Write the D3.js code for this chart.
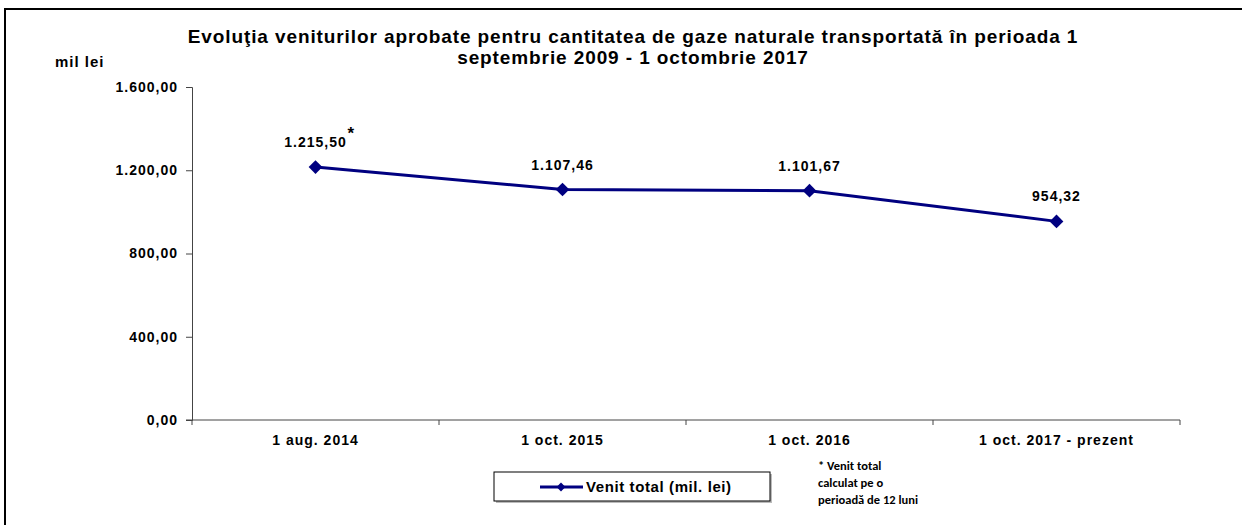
<!DOCTYPE html>
<html>
<head>
<meta charset="utf-8">
<script src="https://cdn.jsdelivr.net/npm/d3@7"></script>
<style>
body { margin: 0; background: #fff; }
text { font-family: Arial, "Liberation Sans", sans-serif; font-weight: bold; fill: #000; }
</style>
</head>
<body>
<svg width="1242" height="525"></svg>
<script>
const categories = ["1 aug. 2014", "1 oct. 2015", "1 oct. 2016", "1 oct. 2017 - prezent"];
const venit = [1215.50, 1107.46, 1101.67, 954.32];
const yTicks = [0, 400, 800, 1200, 1600];

const svg = d3.select("svg");
const fmt = v => d3.format(",.2f")(v).replace(/,/g, "#").replace(".", ",").replace(/#/g, ".");

// frame
svg.append("path").attr("d", "M5,525 V9 H1242").attr("fill", "none").attr("stroke", "#000").attr("stroke-width", 2);

const x = d3.scaleBand().domain(categories).range([192, 1180]);
const y = d3.scaleLinear().domain([0, 1600]).range([420, 87]);

// title
const title = svg.append("text").attr("text-anchor", "middle").attr("font-size", 19).attr("letter-spacing", 0.9);
title.append("tspan").attr("x", 633).attr("y", 43).text("Evoluţia veniturilor aprobate pentru cantitatea de gaze naturale transportată în perioada 1");
title.append("tspan").attr("x", 633).attr("y", 64).text("septembrie 2009 - 1 octombrie 2017");

svg.append("text").attr("x", 55).attr("y", 67).attr("font-size", 15).attr("letter-spacing", 1).text("mil lei");

// y axis
const ya = svg.append("g").attr("transform", "translate(192,0)")
    .call(d3.axisLeft(y).tickValues(yTicks).tickSize(6).tickPadding(8).tickFormat(fmt));
ya.selectAll("text").attr("font-size", 14).attr("letter-spacing", 1)
    .style("font-family", "Arial, 'Liberation Sans', sans-serif").style("font-weight", "bold");
ya.selectAll("path, line").attr("stroke", "#444");

// x axis
const xa = svg.append("g").attr("transform", "translate(0,420)");
xa.append("line").attr("x1", 186).attr("x2", 1180).attr("stroke", "#444");
xa.selectAll("line.t").data(categories.concat([null])).enter().append("line")
    .attr("x1", (d, i) => i < categories.length ? x(d) : x.range()[1])
    .attr("x2", (d, i) => i < categories.length ? x(d) : x.range()[1])
    .attr("y1", 0).attr("y2", 5).attr("stroke", "#444");
xa.selectAll("text").data(categories).enter().append("text")
    .attr("x", d => x(d) + x.bandwidth() / 2).attr("y", 25)
    .attr("text-anchor", "middle").attr("font-size", 14).attr("letter-spacing", 1).text(d => d);

// line
const cx = (d, i) => x(categories[i]) + x.bandwidth() / 2;
svg.append("path").datum(venit)
    .attr("d", d3.line().x(cx).y(d => y(d)))
    .attr("fill", "none").attr("stroke", "#000080").attr("stroke-width", 3);

const diamond = d3.symbol().type(d3.symbolDiamond2).size(120);
svg.selectAll("path.m").data(venit).enter().append("path")
    .attr("d", diamond)
    .attr("transform", (d, i) => `translate(${cx(d, i)},${y(d)})`)
    .attr("fill", "#000080");

svg.selectAll("text.lbl").data(venit).enter().append("text")
    .attr("x", (d, i) => cx(d, i)).attr("y", d => y(d) - 20)
    .attr("text-anchor", "middle").attr("font-size", 14).attr("letter-spacing", 1).text(fmt);

svg.append("text").attr("x", cx(venit[0], 0) + 32).attr("y", y(venit[0]) - 28)
    .attr("font-size", 17).text("*");

// legend
svg.append("rect").attr("x", 496).attr("y", 474).attr("width", 276).attr("height", 29).attr("fill", "#bbb");
svg.append("rect").attr("x", 494).attr("y", 472).attr("width", 276).attr("height", 29)
    .attr("fill", "#fff").attr("stroke", "#000").attr("stroke-width", 1);
svg.append("line").attr("x1", 540).attr("x2", 583).attr("y1", 487).attr("y2", 487)
    .attr("stroke", "#000080").attr("stroke-width", 3);
svg.append("path").attr("d", d3.symbol().type(d3.symbolDiamond2).size(50))
    .attr("transform", "translate(561,487)").attr("fill", "#000080");
svg.append("text").attr("x", 586).attr("y", 492).attr("font-size", 15).attr("letter-spacing", 0.6).text("Venit total (mil. lei)");

// footnote
const note = svg.append("text").attr("font-size", 12.5).style("font-family", "Carlito, 'Open Sans', 'Liberation Sans Narrow', sans-serif");
["* Venit total", "calculat pe o", "perioadă de 12 luni"].forEach((t, i) =>
    note.append("tspan").attr("x", 818).attr("y", 470 + i * 17).text(t));
</script>
</body>
</html>
